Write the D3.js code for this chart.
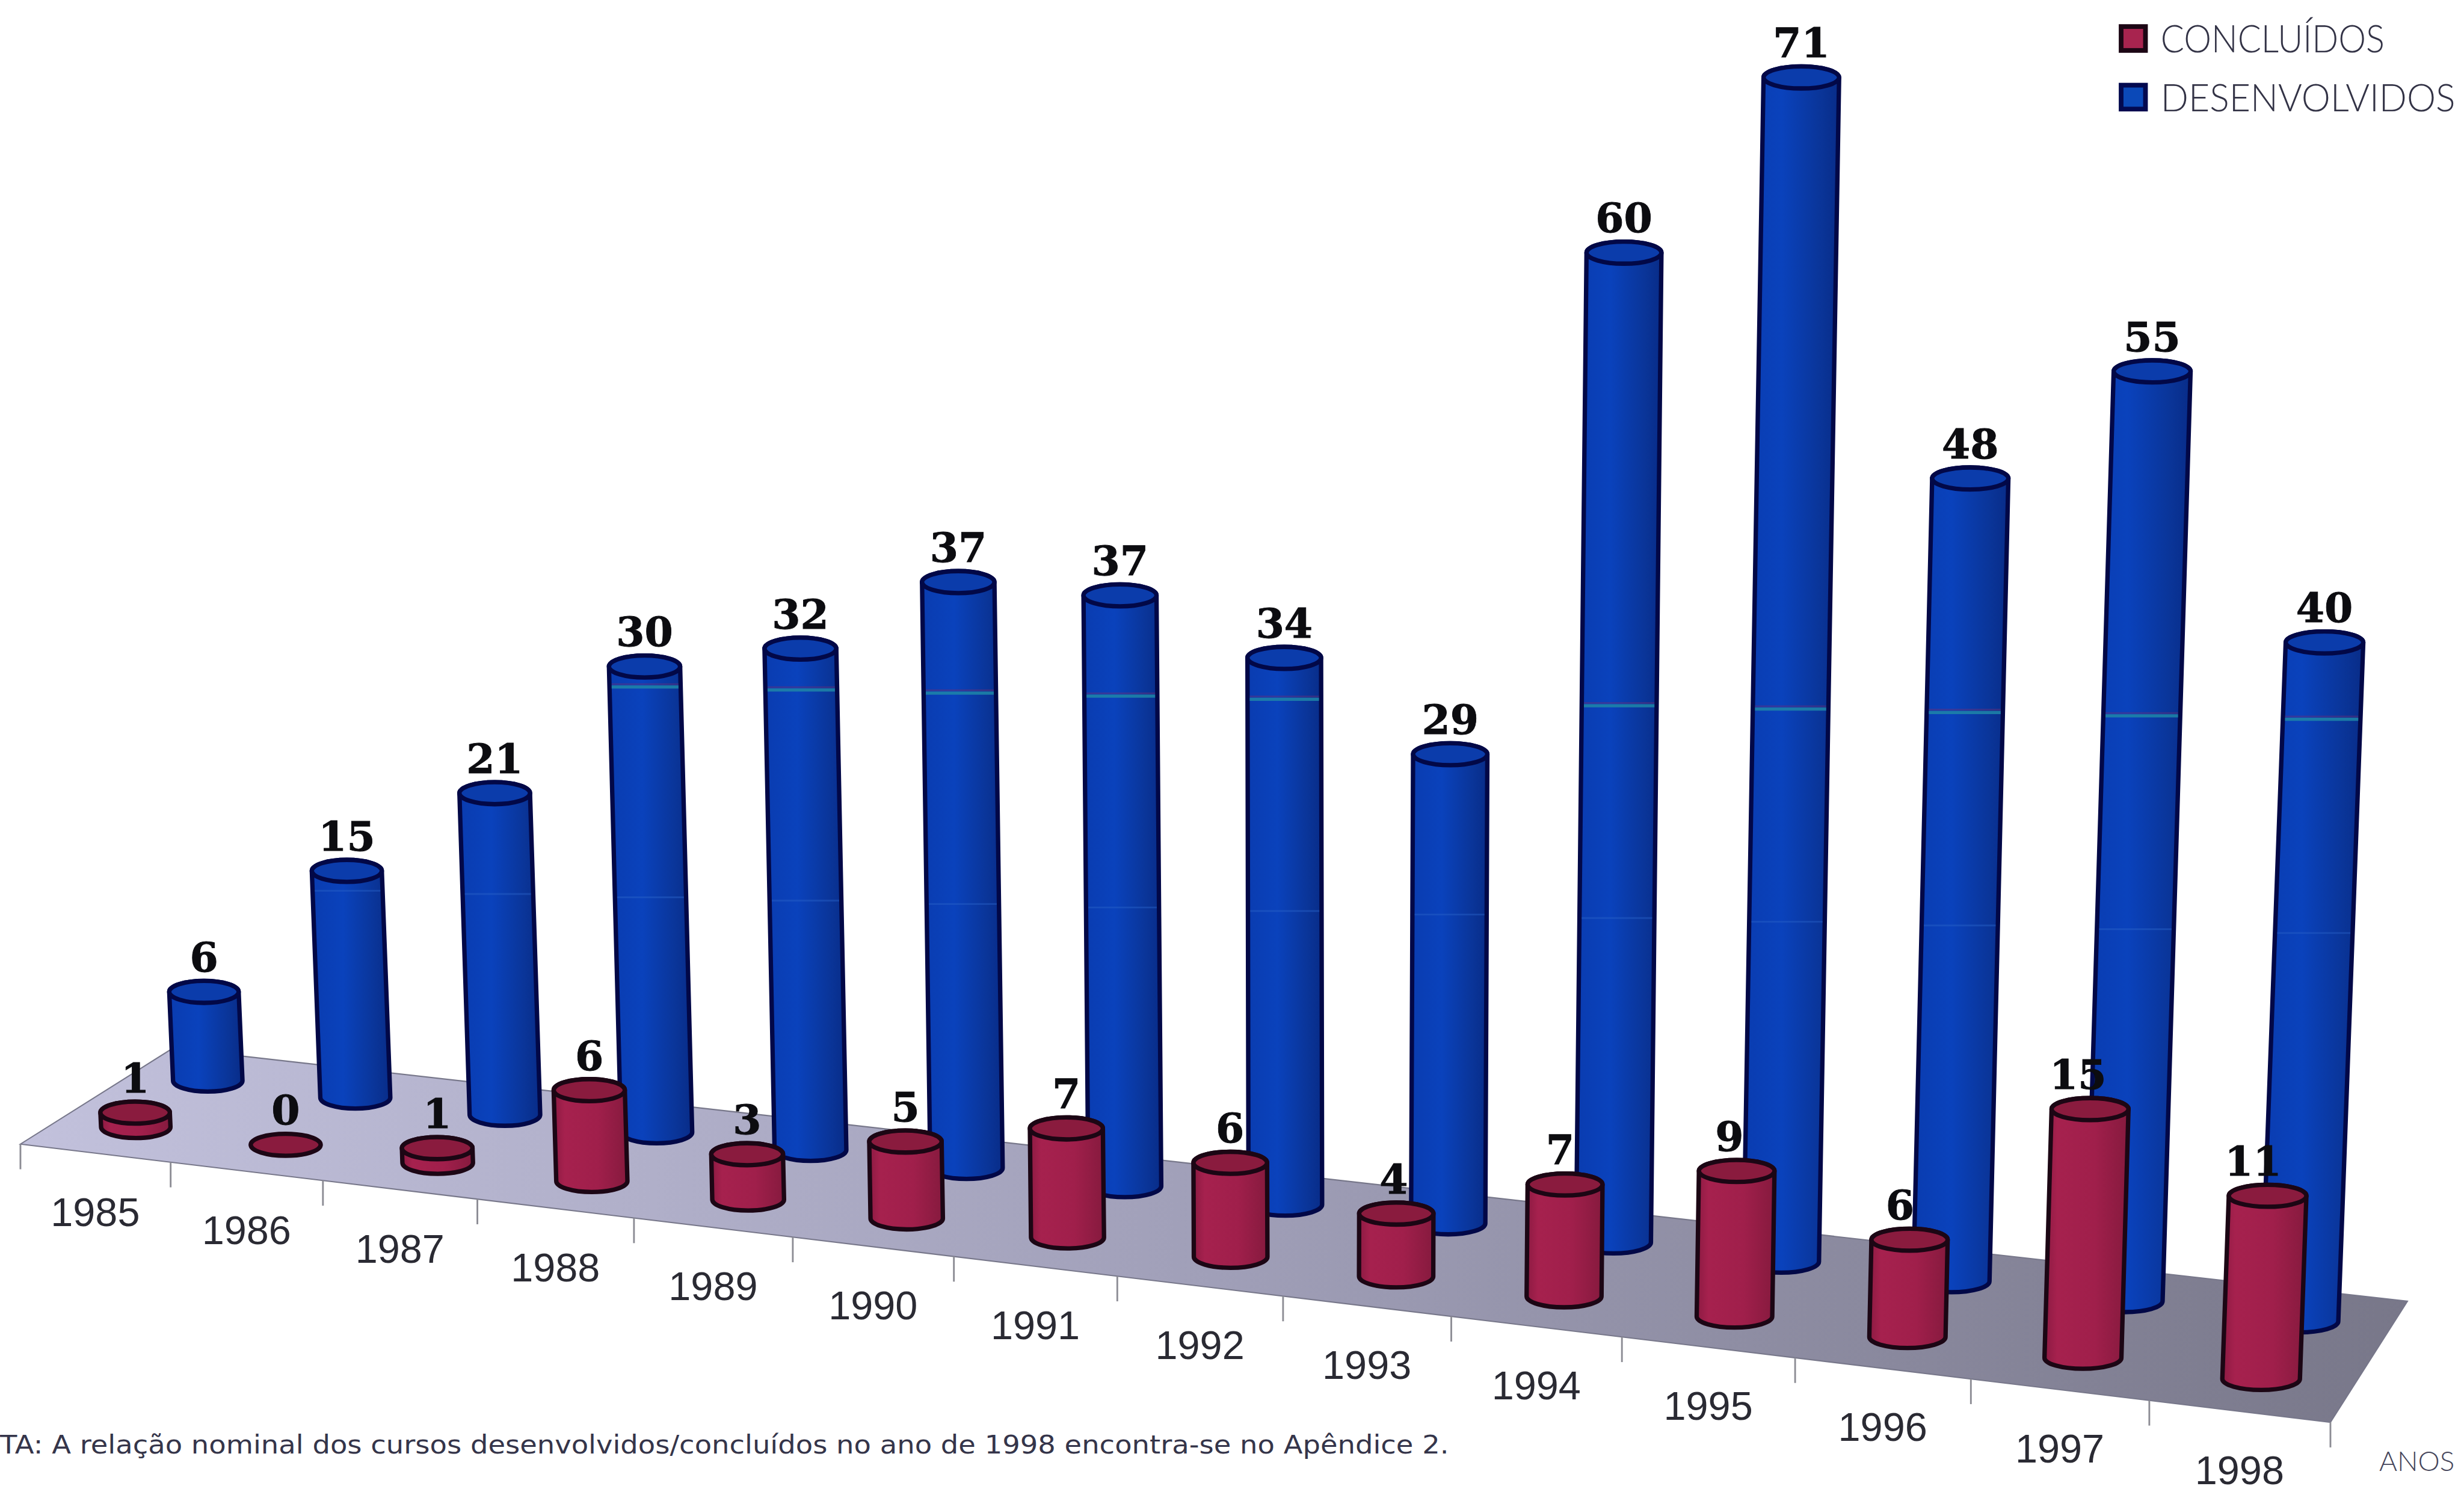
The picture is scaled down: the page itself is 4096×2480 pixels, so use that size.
<!DOCTYPE html>
<html>
<head>
<meta charset="utf-8">
<script src="https://cdn.jsdelivr.net/npm/d3@7"></script>
<style>
html,body{margin:0;padding:0;background:#fff;overflow:hidden}
svg{display:block}
</style>
</head>
<body>
<script>
// ---- data ----
const years = ["1985","1986","1987","1988","1989","1990","1991","1992","1993","1994","1995","1996","1997","1998"];
const concluidos = [1,0,1,6,3,5,7,6,4,7,9,6,15,11];
const desenvolvidos = [6,15,21,30,32,37,37,34,29,60,71,48,55,40];
const legendNames = ["CONCLUÍDOS","DESENVOLVIDOS"];
const noteText = "TA: A relação nominal dos cursos desenvolvidos/concluídos no ano de 1998 encontra-se no Apêndice 2.";
const axisName = "ANOS";

// ---- layout (in the 1568-wide working space, scaled to the window) ----
const W = 4096, H = 2480, S = W / 1568;
const floorA = [13,728], floorB = [1483,905], floorC = [1532,828], floorD = [110,667];
const persp = 1.106;              // foreshortening along the front edge
const rowDepth = {conc:0.27, des:0.75};
const ry = 7;

const tScale = d3.scaleLinear().domain([0, years.length]).range([0,1]);
const along = u => { const t = tScale(u); return t / (t + persp * (1 - t)); };
const frontX = d3.scaleLinear().domain([0,1]).range([floorA[0], floorB[0]]);
const frontY = d3.scaleLinear().domain([0,1]).range([floorA[1], floorB[1]]);
const depthX = d3.scaleLinear().domain([0,1]).range([floorD[0]-floorA[0], floorC[0]-floorB[0]]);
const depthY = d3.scaleLinear().domain([0,1]).range([floorD[1]-floorA[1], floorC[1]-floorB[1]]);
const rxScale = d3.scaleLinear().domain([0,1]).range([22,24.8]);
const unitScale = d3.scaleLinear().domain([0,1]).range([9.6,10.8]);
const valueScale = d3.scalePow().exponent(1.015).domain([0,30]).range([0,30]);
const leanX0 = 850, leanK = 6e-5;
const bandA = d3.scaleLinear().domain([411,1478]).range([437,458]);
const bandB = d3.scaleLinear().domain([512,1478]).range([573,594]);
const redLabelShift = d3.scaleLinear().domain([0.5,1]).range([0,-10]).clamp(true);

function column(i, value, depth){
  const f = along(i + 0.5);
  const bx = frontX(f) + depthX(f) * depth;
  const by = frontY(f) + depthY(f) * depth;
  const h = valueScale(value) * unitScale(f);
  const tx = bx + (bx - leanX0) * leanK * h;
  return {i, value, f, bx, by, tx, ty: by - h, h, rx: rxScale(f)};
}
const blues = desenvolvidos.map((v,i) => column(i, v, rowDepth.des));
const reds  = concluidos.map((v,i) => column(i, v, rowDepth.conc));

const svg = d3.select("body").append("svg").attr("width",W).attr("height",H);
svg.append("rect").attr("width",W).attr("height",H).attr("fill","#fff");
const defs = svg.append("defs");
function grad(id, stops){
  const g = defs.append("linearGradient").attr("id",id).attr("x1",0).attr("x2",1).attr("y1",0).attr("y2",0);
  stops.forEach(s => g.append("stop").attr("offset",s[0]).attr("stop-color",s[1]));
}
grad("gBlue",[[0,"#0a3cb0"],[0.4,"#0a42bc"],[0.8,"#0a3599"],[1,"#082c88"]]);
grad("gRed",[[0,"#8c1a42"],[0.15,"#a6214e"],[0.6,"#a01f4b"],[1,"#861a3e"]]);
const floorGrad = defs.append("linearGradient").attr("id","gFloor")
  .attr("gradientUnits","userSpaceOnUse")
  .attr("x1",floorA[0]).attr("x2",floorC[0]).attr("y1",0).attr("y2",0);
floorGrad.append("stop").attr("offset",0).attr("stop-color","#c2c1dc");
floorGrad.append("stop").attr("offset",0.5).attr("stop-color","#a09fb8");
floorGrad.append("stop").attr("offset",1).attr("stop-color","#787789");

const root = svg.append("g").attr("transform",`scale(${S})`);

// floor
root.append("path")
  .attr("d", d3.line()([floorA,floorB,floorC,floorD]) + "Z")
  .attr("fill","url(#gFloor)").attr("stroke","#77778a").attr("stroke-width",0.8);

// axis ticks and year labels
const ticks = d3.range(years.length + 1);
root.append("g").selectAll("line").data(ticks).join("line")
  .attr("x1",u=>frontX(along(u))).attr("x2",u=>frontX(along(u)))
  .attr("y1",u=>frontY(along(u))).attr("y2",u=>frontY(along(u))+16)
  .attr("stroke","#8c8c94").attr("stroke-width",1.1);
root.append("g").selectAll("text").data(years).join("text")
  .attr("x",(d,i)=>frontX(along(i+0.5)))
  .attr("y",(d,i)=>frontY(along(i+0.5))+37.5)
  .attr("text-anchor","middle").attr("dominant-baseline","central")
  .attr("font-family","'Liberation Sans',Arial,sans-serif")
  .attr("font-size",25.5).attr("fill","#2a2a33")
  .text(d=>d);

// cylinders
function bodyPath(d){
  return `M${d.tx-d.rx},${d.ty}L${d.bx-d.rx},${d.by}` +
         `A${d.rx},${ry} 0 0 0 ${d.bx+d.rx},${d.by}` +
         `L${d.tx+d.rx},${d.ty}` +
         `A${d.rx},${ry} 0 0 0 ${d.tx-d.rx},${d.ty}Z`;
}
function drawSeries(data, fill, top, edge){
  const g = root.append("g");
  const c = g.selectAll("g").data(data).join("g");
  c.filter(d=>d.value>0).append("path")
    .attr("d",bodyPath).attr("fill",fill)
    .attr("stroke",edge).attr("stroke-width",2.8).attr("stroke-linejoin","round");
  c.append("ellipse")
    .attr("cx",d=>d.tx).attr("cy",d=>d.ty).attr("rx",d=>d.rx).attr("ry",ry)
    .attr("fill",top).attr("stroke",edge).attr("stroke-width",2.8);
  return c;
}
drawSeries(blues,"url(#gBlue)","#0b3cab","#020847");

// scanning bands across the tall blue columns
function bandSeg(band, color, width, op, dy){
  root.append("g").selectAll("line")
    .data(blues.filter(d => { const y = band(d.bx); return y > d.ty + ry + 4 && y < d.by - ry; }))
    .join("line")
    .attr("x1",d=>{const y=band(d.bx);const k=(d.by-y)/d.h;return d.bx+(d.tx-d.bx)*k-d.rx+1.4;})
    .attr("x2",d=>{const y=band(d.bx);const k=(d.by-y)/d.h;return d.bx+(d.tx-d.bx)*k+d.rx-1.4;})
    .attr("y1",d=>band(d.bx)+dy).attr("y2",d=>band(d.bx)+dy)
    .attr("stroke",color).attr("stroke-width",width).attr("opacity",op);
}
bandSeg(bandA,"#6a2f78",1.2,0.45,-1.8);
bandSeg(bandA,"#1f86a8",2,0.85,0);
bandSeg(bandB,"#2a63c8",1.1,0.45,0);

drawSeries(reds,"url(#gRed)","#8a1b3e","#1c0614");

// value labels
const labelled = blues.map(d=>({...d,dx:0})).concat(reds.map(d=>({...d,dx:redLabelShift(d.f)})));
root.append("g").selectAll("text").data(labelled).join("text")
  .attr("x",d=>d.tx+d.dx).attr("y",d=>d.ty-ry-15)
  .attr("text-anchor","middle").attr("dominant-baseline","central")
  .attr("font-family","'DejaVu Serif',serif").attr("font-weight","bold")
  .attr("font-size",26).attr("fill","#0c0c10")
  .attr("stroke","#0c0c10").attr("stroke-width",0.35)
  .text(d=>d.value);

// legend
const legendColors = ["#a8244f","#0b49b8"];
const legendEdge = ["#1c0614","#03094f"];
const legendY = [15.4,52.7];
const legendLen = [142.5,187.5];
const lg = root.append("g");
legendNames.forEach((name,k)=>{
  lg.append("rect").attr("x",1349.8).attr("y",legendY[k]+1.5).attr("width",15.5).attr("height",15.2)
    .attr("fill",legendColors[k]).attr("stroke",legendEdge[k]).attr("stroke-width",3);
  lg.append("text").attr("x",1375).attr("y",legendY[k]+18)
    .attr("font-family","Lato,'Liberation Sans',sans-serif").attr("font-weight",300)
    .attr("font-size",24).attr("fill","#333346")
    .attr("textLength",legendLen[k]).attr("lengthAdjust","spacingAndGlyphs")
    .text(name);
});

// axis name and note
root.append("text").attr("x",1514).attr("y",936)
  .attr("font-family","Lato,'Liberation Sans',sans-serif").attr("font-weight",300)
  .attr("font-size",17).attr("fill","#45455a")
  .attr("textLength",48).attr("lengthAdjust","spacingAndGlyphs").text(axisName);
root.append("text").attr("x",0).attr("y",925)
  .attr("font-family","'DejaVu Sans',sans-serif")
  .attr("font-size",16).attr("fill","#35354a")
  .attr("textLength",922).attr("lengthAdjust","spacingAndGlyphs").text(noteText);
</script>
</body>
</html>
